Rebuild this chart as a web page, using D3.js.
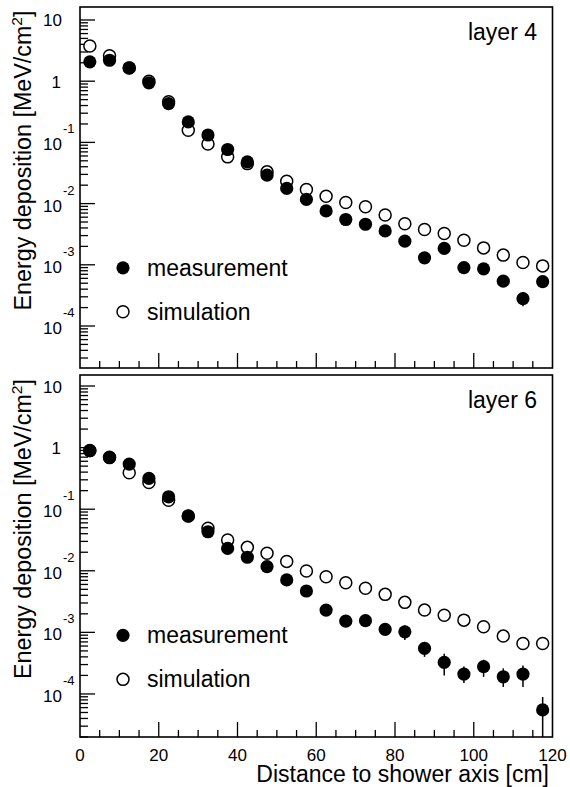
<!DOCTYPE html>
<html><head><meta charset="utf-8">
<script src="https://cdn.jsdelivr.net/npm/d3@7"></script>
<style>body{margin:0;background:#fff}svg{display:block}text{font-family:"Liberation Sans",Arial,Helvetica,sans-serif;fill:#000}</style>
</head><body>
<script>
const distance = [2.5, 7.5, 12.5, 17.5, 22.5, 27.5, 32.5, 37.5, 42.5, 47.5, 52.5, 57.5, 62.5, 67.5, 72.5, 77.5, 82.5, 87.5, 92.5, 97.5, 102.5, 107.5, 112.5, 117.5];
const meas4 = [2.07, 2.2, 1.65, 0.94, 0.43, 0.216, 0.132, 0.0766, 0.048, 0.0291, 0.0177, 0.0117, 0.0076, 0.0055, 0.0046, 0.00358, 0.00243, 0.0013, 0.00185, 0.0009, 0.00086, 0.00054, 0.00028, 0.00053];
const sim4 = [3.77, 2.6, 1.65, 1.0, 0.46, 0.158, 0.094, 0.058, 0.045, 0.033, 0.0232, 0.017, 0.0132, 0.0104, 0.0089, 0.0065, 0.0047, 0.00378, 0.00325, 0.00252, 0.00189, 0.00144, 0.00109, 0.00096];
const errLo4 = [null, null, null, null, null, null, null, null, null, null, null, null, null, null, null, null, null, null, null, null, null, null, 0.00021, null];
const errHi4 = [null, null, null, null, null, null, null, null, null, null, null, null, null, null, null, null, null, null, null, null, null, null, 0.00036, null];
const meas6 = [0.89, 0.685, 0.54, 0.316, 0.159, 0.0776, 0.043, 0.0231, 0.0166, 0.0117, 0.0071, 0.0047, 0.0023, 0.00152, 0.00155, 0.00112, 0.00102, 0.00055, 0.000326, 0.00021, 0.000277, 0.00019, 0.00021, 0.000055];
const sim6 = [0.9, 0.7, 0.39, 0.272, 0.14, 0.0776, 0.049, 0.0316, 0.024, 0.0192, 0.0142, 0.0099, 0.008, 0.0064, 0.0052, 0.00414, 0.00307, 0.0023, 0.0019, 0.00158, 0.00123, 0.00087, 0.00066, 0.00066];
const errLo6 = [null, null, null, null, null, null, null, null, null, null, null, null, null, null, null, null, 0.00075, 0.0004, 0.0002, 0.00015, 0.00019, 0.00013, 0.00013, 0.00001];
const errHi6 = [null, null, null, null, null, null, null, null, null, null, null, null, null, null, null, null, 0.0013, 0.0007, 0.00045, 0.00028, 0.00036, 0.00026, 0.00029, 0.000089];
const xTicks = [0, 20, 40, 60, 80, 100, 120];
const yDecades = [1, 0, -1, -2, -3, -4];
const legendLabels = ["measurement", "simulation"];
const layerLabels = ["layer 4", "layer 6"];

const W = 570, H = 787;
const svg = d3.select("body").append("svg").attr("width", W).attr("height", H);
const left = 80, right = 552.5;
const x = d3.scaleLinear().domain([0, 120]).range([left, right]);

const panels = [
  {top: 7, bottom: 368, meas: meas4, sim: sim4, lo: errLo4, hi: errHi4, label: layerLabels[0], dom: [2.06e-5, 16.3]},
  {top: 375, bottom: 737, meas: meas6, sim: sim6, lo: errLo6, hi: errHi6, label: layerLabels[1], dom: [2.0e-5, 15.1]}
];

panels.forEach((p, pi) => {
  const y = d3.scaleLog().domain(p.dom).range([p.bottom, p.top]);
  const g = svg.append("g");
  const ticks = [];
  for (let e = -5; e <= 1; e++) for (let m = 1; m <= 9; m++) {
    const v = m * Math.pow(10, e);
    if (v >= p.dom[0] && v <= p.dom[1]) ticks.push({v, major: m === 1});
  }
  g.selectAll(".yt").data(ticks).join("line")
    .attr("x1", left).attr("x2", d => left + (d.major ? 15 : 8))
    .attr("y1", d => y(d.v)).attr("y2", d => y(d.v))
    .attr("stroke", "#000").attr("stroke-width", 1.3);
  const xt = d3.range(0, 121, 5).filter(v => v > 0 && v < 120);
  g.selectAll(".xt").data(xt).join("line")
    .attr("x1", d => x(d)).attr("x2", d => x(d))
    .attr("y1", p.bottom).attr("y2", d => p.bottom - (d % 20 === 0 ? 15 : 7))
    .attr("stroke", "#000").attr("stroke-width", 1.3);
  yDecades.forEach(e => {
    const yy = y(Math.pow(10, e));
    if (e === 1) g.append("text").attr("x", 62).attr("y", yy + 6.5).attr("text-anchor", "end").style("font-size", "17px").text("10");
    else if (e === 0) g.append("text").attr("x", 61).attr("y", yy + 6.5).attr("text-anchor", "end").style("font-size", "17px").text("1");
    else {
      g.append("text").attr("x", 62).attr("y", yy + 8).attr("text-anchor", "end").style("font-size", "17px").text("10");
      g.append("text").attr("x", 63).attr("y", yy - 9).attr("text-anchor", "start").style("font-size", "13px").text(String(e));
    }
  });
  g.append("rect").attr("x", left).attr("y", p.top).attr("width", right - left).attr("height", p.bottom - p.top)
    .attr("fill", "none").attr("stroke", "#000").attr("stroke-width", 1.6);
  const cy = (p.top + p.bottom) / 2 - 27;
  const t = g.append("text").attr("transform", `translate(31,${cy}) rotate(-90)`).attr("text-anchor", "middle").style("font-size", "23.3px");
  t.append("tspan").text("Energy deposition [MeV/cm");
  t.append("tspan").attr("dy", -9).style("font-size", "15.5px").text("2");
  t.append("tspan").attr("dy", 9).text("]");
  g.append("text").attr("x", 537).attr("y", p.top + 33).attr("text-anchor", "end").style("font-size", "23px").text(p.label);
  const clipId = "clip" + pi;
  svg.append("clipPath").attr("id", clipId).append("rect").attr("x", left).attr("y", p.top).attr("width", right - left).attr("height", p.bottom - p.top);
  const data = distance.map((d, i) => ({d, m: p.meas[i], s: p.sim[i], lo: p.lo[i], hi: p.hi[i]}));
  const pg = g.append("g").attr("clip-path", `url(#${clipId})`);
  pg.selectAll(".eb").data(data.filter(d => d.lo !== null)).join("line")
    .attr("x1", d => x(d.d)).attr("x2", d => x(d.d))
    .attr("y1", d => y(d.hi)).attr("y2", d => y(d.lo))
    .attr("stroke", "#000").attr("stroke-width", 1.5);
  pg.selectAll(".sim").data(data).join("circle")
    .attr("cx", d => x(d.d)).attr("cy", d => y(d.s)).attr("r", 6)
    .attr("fill", "#fff").attr("stroke", "#000").attr("stroke-width", 1.5);
  pg.selectAll(".meas").data(data).join("circle")
    .attr("cx", d => x(d.d)).attr("cy", d => y(d.m)).attr("r", 6.6)
    .attr("fill", "#000");
  const ly = [y(Math.pow(10, -3)) + 3, y(Math.pow(10, -3)) + 47];
  g.append("circle").attr("cx", 123).attr("cy", ly[0]).attr("r", 6.6).attr("fill", "#000");
  g.append("circle").attr("cx", 123).attr("cy", ly[1]).attr("r", 6).attr("fill", "#fff").attr("stroke", "#000").attr("stroke-width", 1.5);
  legendLabels.forEach((l, i) => g.append("text").attr("x", 147).attr("y", ly[i] + 8).style("font-size", "23px").text(l));
  if (pi === 1) {
    svg.selectAll(".xl").data(xTicks).join("text").attr("x", d => x(d)).attr("y", p.bottom + 24)
      .attr("text-anchor", "middle").style("font-size", "17px").text(d => d);
    svg.append("text").attr("x", 549).attr("y", 782).attr("text-anchor", "end").style("font-size", "23px").text("Distance to shower axis [cm]");
  }
});
</script>
</body></html>
